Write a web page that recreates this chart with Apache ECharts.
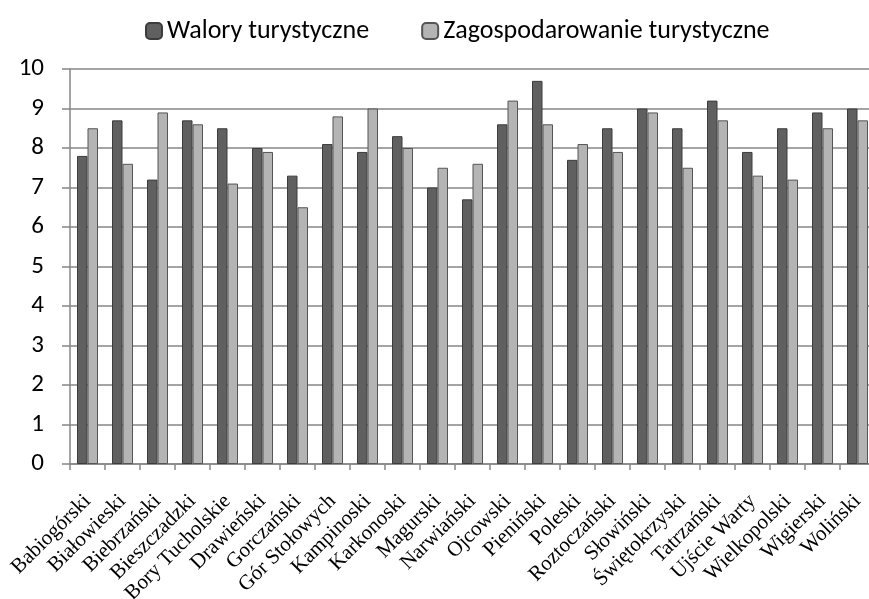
<!DOCTYPE html>
<html>
<head>
<meta charset="utf-8">
<script src="https://cdn.jsdelivr.net/npm/echarts@6/dist/echarts.min.js"></script>
<style>
  html, body { margin: 0; padding: 0; background: #fff; }
  #chart { width: 869px; height: 599px; }
</style>
</head>
<body>
<div id="chart"></div>
<script>
const parks = ['Babiogórski', 'Białowieski', 'Biebrzański', 'Bieszczadzki', 'Bory Tucholskie',
    'Drawieński', 'Gorczański', 'Gór Stołowych', 'Kampinoski', 'Karkonoski', 'Magurski',
    'Narwiański', 'Ojcowski', 'Pieniński', 'Poleski', 'Roztoczański', 'Słowiński',
    'Świętokrzyski', 'Tatrzański', 'Ujście Warty', 'Wielkopolski', 'Wigierski', 'Woliński'];
const walory = [7.8, 8.7, 7.2, 8.7, 8.5, 8.0, 7.3, 8.1, 7.9, 8.3, 7.0, 6.7, 8.6, 9.7, 7.7,
    8.5, 9.0, 8.5, 9.2, 7.9, 8.5, 8.9, 9.0];
const zagospodarowanie = [8.5, 7.6, 8.9, 8.6, 7.1, 7.9, 6.5, 8.8, 9.0, 8.0, 7.5, 7.6, 9.2,
    8.6, 8.1, 7.9, 8.9, 7.5, 8.7, 7.3, 7.2, 8.5, 8.7];
const seriesNames = ['Walory turystyczne', 'Zagospodarowanie turystyczne'];

const sansFont = "Carlito, 'Open Sans', sans-serif";
const chart = echarts.init(document.getElementById('chart'));
chart.setOption({
    animation: false,
    legend: {
        top: 13,
        left: 140,
        itemWidth: 16,
        itemHeight: 16,
        itemGap: 52,
        textStyle: { fontFamily: sansFont, fontSize: 26, color: '#000' },
        data: seriesNames
    },
    grid: {
        left: 70,
        top: 69,
        width: 805,
        height: 395,
        containLabel: false,
        outerBoundsMode: 'none'
    },
    xAxis: {
        type: 'category',
        data: parks,
        axisLine: { lineStyle: { color: '#868686', width: 1.5 } },
        axisTick: { show: true, length: 6, lineStyle: { color: '#868686', width: 1.5 } },
        axisLabel: {
            interval: 0,
            rotate: 45,
            margin: 34,
            fontFamily: "'Liberation Serif', 'Times New Roman', serif",
            fontSize: 21,
            color: '#000'
        }
    },
    yAxis: {
        type: 'value',
        min: 0,
        max: 10,
        interval: 1,
        axisLine: { show: true, lineStyle: { color: '#868686', width: 1.5 } },
        axisTick: { show: true, length: 8, lineStyle: { color: '#868686', width: 1.5 } },
        splitLine: { lineStyle: { color: '#868686', width: 1.5 } },
        axisLabel: {
            margin: 26,
            fontFamily: sansFont,
            fontSize: 25,
            color: '#000'
        }
    },
    series: [
        {
            name: seriesNames[0],
            type: 'bar',
            data: walory,
            barWidth: 10.5,
            barGap: '0%',
            itemStyle: { color: '#606060', borderColor: '#3c3c3c', borderWidth: 1 }
        },
        {
            name: seriesNames[1],
            type: 'bar',
            data: zagospodarowanie,
            barWidth: 10.5,
            barGap: '0%',
            itemStyle: { color: '#b4b4b4', borderColor: '#555555', borderWidth: 1 }
        }
    ]
});
</script>
</body>
</html>
